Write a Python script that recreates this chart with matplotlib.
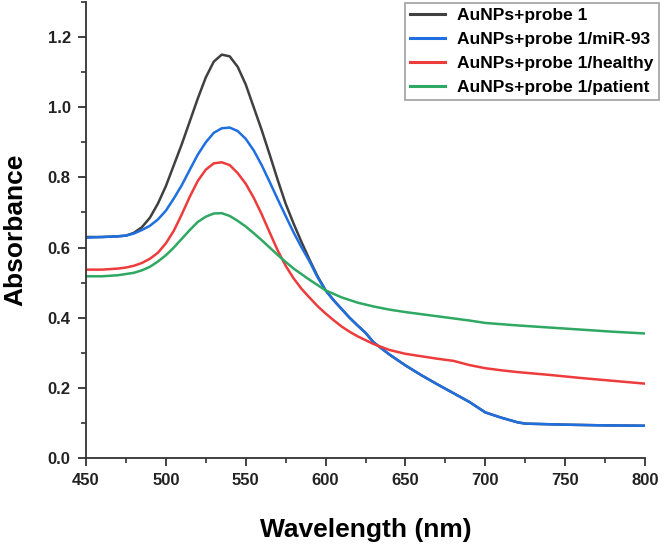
import matplotlib
matplotlib.use("Agg")
import matplotlib.pyplot as plt
from matplotlib.ticker import MultipleLocator

# ---- data ----
wl_black = [450, 460, 470, 475, 480, 485, 490, 495, 500, 505, 510, 515, 520, 525, 530, 535,
            540, 545, 550, 555, 560, 565, 570, 575, 580, 585, 590, 595, 600, 605, 610, 615,
            620, 625, 630, 640, 650, 660, 670, 680, 690, 700, 710, 720, 725, 750, 775, 800]
ab_black = [0.630, 0.630, 0.632, 0.634, 0.642, 0.658, 0.685, 0.725, 0.775, 0.835, 0.895, 0.960,
            1.025, 1.085, 1.130, 1.150, 1.145, 1.115, 1.065, 1.000, 0.935, 0.865, 0.793, 0.725,
            0.668, 0.615, 0.565, 0.518, 0.478, 0.450, 0.425, 0.400, 0.378, 0.357, 0.330, 0.295,
            0.264, 0.236, 0.210, 0.185, 0.160, 0.130, 0.115, 0.102, 0.098, 0.095, 0.093, 0.092]

wl_blue = [450, 460, 470, 475, 480, 485, 490, 495, 500, 505, 510, 515, 520, 525, 530, 535,
           540, 545, 550, 555, 560, 565, 570, 575, 580, 585, 590, 595, 600, 605, 610, 615,
           620, 625, 630, 640, 650, 660, 670, 680, 690, 700, 710, 720, 725, 750, 775, 800]
ab_blue = [0.628, 0.630, 0.632, 0.634, 0.640, 0.650, 0.662, 0.680, 0.705, 0.740, 0.778, 0.822,
           0.865, 0.900, 0.927, 0.940, 0.942, 0.932, 0.910, 0.877, 0.835, 0.787, 0.738, 0.690,
           0.643, 0.600, 0.560, 0.515, 0.478, 0.450, 0.425, 0.400, 0.378, 0.357, 0.330, 0.295,
           0.264, 0.236, 0.210, 0.185, 0.160, 0.130, 0.115, 0.102, 0.098, 0.095, 0.093, 0.092]

wl_red = [450, 460, 470, 475, 480, 485, 490, 495, 500, 505, 510, 515, 520, 525, 530, 535,
          540, 545, 550, 555, 560, 565, 570, 575, 580, 585, 590, 595, 600, 605, 610, 615,
          620, 630, 640, 650, 660, 670, 680, 690, 700, 710, 720, 740, 760, 780, 800]
ab_red = [0.537, 0.537, 0.540, 0.543, 0.548, 0.556, 0.568, 0.585, 0.612, 0.648, 0.695, 0.745,
          0.790, 0.822, 0.840, 0.843, 0.835, 0.812, 0.782, 0.742, 0.695, 0.643, 0.592, 0.548,
          0.512, 0.482, 0.457, 0.433, 0.412, 0.393, 0.375, 0.360, 0.347, 0.325, 0.308, 0.297,
          0.290, 0.283, 0.277, 0.265, 0.256, 0.250, 0.245, 0.237, 0.228, 0.220, 0.212]

wl_green = [450, 460, 470, 480, 485, 490, 495, 500, 505, 510, 515, 520, 525, 530, 535, 540,
            545, 550, 555, 560, 565, 570, 575, 580, 590, 600, 610, 620, 630, 640, 650, 660,
            670, 680, 690, 700, 720, 740, 760, 780, 800]
ab_green = [0.518, 0.518, 0.521, 0.528, 0.535, 0.545, 0.560, 0.578, 0.600, 0.625, 0.650, 0.673,
            0.688, 0.697, 0.698, 0.690, 0.676, 0.660, 0.641, 0.621, 0.600, 0.579, 0.559, 0.540,
            0.508, 0.478, 0.458, 0.443, 0.432, 0.423, 0.416, 0.410, 0.404, 0.398, 0.392, 0.385,
            0.378, 0.372, 0.366, 0.360, 0.355]

labels = ["AuNPs+probe 1", "AuNPs+probe 1/miR-93", "AuNPs+probe 1/healthy", "AuNPs+probe 1/patient"]
colors = ["#404040", "#1f6fe0", "#ee3b3b", "#2ea862"]

xticks = [450, 500, 550, 600, 650, 700, 750, 800]
yticks = [0.0, 0.2, 0.4, 0.6, 0.8, 1.0, 1.2]

plt.rcParams['font.family'] = ['Liberation Sans', 'DejaVu Sans']

fig = plt.figure(figsize=(6.64, 5.53), dpi=100)
ax = fig.add_axes([86/664, 1 - 458/553, (645 - 86)/664, (458 - 2)/553])

series = [(wl_black, ab_black), (wl_blue, ab_blue), (wl_red, ab_red), (wl_green, ab_green)]
for (x, y), lab, c in zip(series, labels, colors):
    ax.plot(x, y, color=c, lw=1.8, label=lab, solid_joinstyle='round')

ax.set_xlim(450, 800)
ax.set_ylim(0, 1.3)
ax.set_xticks(xticks)
ax.set_yticks(yticks)
ax.set_yticklabels([f"{v:.1f}" for v in yticks])
ax.xaxis.set_minor_locator(MultipleLocator(25))
ax.yaxis.set_minor_locator(MultipleLocator(0.1))
for s in ['top', 'right']:
    ax.spines[s].set_visible(False)
for s in ['left', 'bottom']:
    ax.spines[s].set_linewidth(1.3)
    ax.spines[s].set_color('#333333')
ax.tick_params(which='major', direction='out', length=6, width=1.3, color='#333333',
               labelsize=12, pad=5)
ax.tick_params(which='minor', direction='out', length=3.5, width=1.2, color='#333333')
for t in ax.get_xticklabels() + ax.get_yticklabels():
    t.set_fontweight('bold')
    t.set_color('#222222')

xl = ax.set_xlabel("Wavelength (nm)", fontsize=19, fontweight='bold')
xl.set_va('center')
ax.xaxis.set_label_coords(0.5, (458 - 530) / 456)
yl = ax.set_ylabel("Absorbance", fontsize=19, fontweight='bold')
yl.set_va('center')
ax.yaxis.set_label_coords((15 - 86) / 559, 0.5)

leg = ax.legend(loc='upper left', bbox_to_anchor=(405/664, 1 - 3/553),
                bbox_transform=fig.transFigure, fontsize=12.5, frameon=True, fancybox=False,
                handlelength=2.0, labelspacing=0.5, borderpad=0.3, handletextpad=0.7,
                borderaxespad=0)
leg.get_frame().set_edgecolor('#888888')
leg.get_frame().set_linewidth(1.2)
for t in leg.get_texts():
    t.set_fontweight('bold')
for h in leg.get_lines():
    h.set_linewidth(2.2)

fig.savefig("out.png", dpi=100)
